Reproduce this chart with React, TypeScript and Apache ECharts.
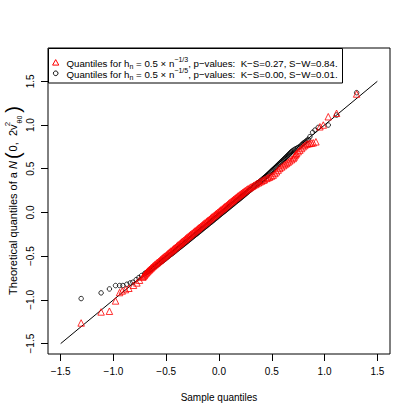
import React, { useEffect, useRef } from "react";
import * as echarts from "echarts";

const FONT = "'Liberation Sans', Arial, Helvetica, sans-serif";

const xTicks = [-1.5, -1.0, -0.5, 0.0, 0.5, 1.0, 1.5];
const yTicks = [-1.5, -1.0, -0.5, 0.0, 0.5, 1.0, 1.5];
const refLine = [[-1.5, -1.5], [1.5, 1.5]];

// [sample quantile, theoretical quantile]
const redTail = [
  [-1.306, -1.264], [-1.117, -1.138], [-1.038, -1.13], [-0.98, -1.012], [-0.942, -0.916],
  [-0.917, -0.898], [-0.886, -0.882], [-0.854, -0.867], [-0.81, -0.833], [-0.778, -0.806],
  [-0.753, -0.775],
];
const redBand = [
  [-0.722, -0.74], [-0.716, -0.73], [-0.708, -0.72], [-0.703, -0.71], [-0.694, -0.7],
  [-0.688, -0.69], [-0.68, -0.68], [-0.673, -0.67], [-0.664, -0.66], [-0.656, -0.65],
  [-0.646, -0.64], [-0.64, -0.63], [-0.628, -0.62], [-0.621, -0.61], [-0.61, -0.6],
  [-0.602, -0.59], [-0.59, -0.58], [-0.583, -0.57], [-0.571, -0.56], [-0.56, -0.55],
  [-0.552, -0.54], [-0.543, -0.53], [-0.532, -0.52], [-0.524, -0.51], [-0.513, -0.5],
  [-0.501, -0.49], [-0.492, -0.48], [-0.484, -0.47], [-0.473, -0.46], [-0.463, -0.45],
  [-0.454, -0.44], [-0.441, -0.43], [-0.433, -0.42], [-0.425, -0.41], [-0.414, -0.4],
  [-0.402, -0.39], [-0.395, -0.38], [-0.386, -0.37], [-0.374, -0.36], [-0.363, -0.35],
  [-0.355, -0.34], [-0.347, -0.33], [-0.336, -0.32], [-0.323, -0.31], [-0.315, -0.3],
  [-0.307, -0.29], [-0.296, -0.28], [-0.284, -0.27], [-0.275, -0.26], [-0.267, -0.25],
  [-0.256, -0.24], [-0.244, -0.23], [-0.235, -0.22], [-0.226, -0.21], [-0.214, -0.2],
  [-0.203, -0.19], [-0.195, -0.18], [-0.186, -0.17], [-0.174, -0.16], [-0.163, -0.15],
  [-0.153, -0.14], [-0.145, -0.13], [-0.134, -0.12], [-0.121, -0.11], [-0.113, -0.1],
  [-0.104, -0.09], [-0.092, -0.08], [-0.081, -0.07], [-0.073, -0.06], [-0.064, -0.05],
  [-0.052, -0.04], [-0.04, -0.03], [-0.031, -0.02], [-0.023, -0.01], [-0.012, 0.0],
  [0.0, 0.01], [0.009, 0.02], [0.018, 0.03], [0.03, 0.04], [0.041, 0.05],
  [0.049, 0.06], [0.058, 0.07], [0.07, 0.08], [0.081, 0.09], [0.091, 0.1],
  [0.099, 0.11], [0.11, 0.12], [0.122, 0.13], [0.132, 0.14], [0.14, 0.15],
  [0.151, 0.16], [0.162, 0.17], [0.173, 0.18], [0.182, 0.19], [0.194, 0.2],
  [0.205, 0.21], [0.216, 0.22], [0.226, 0.23], [0.238, 0.24], [0.249, 0.25],
  [0.262, 0.26], [0.274, 0.27], [0.288, 0.28], [0.301, 0.29], [0.315, 0.3],
  [0.329, 0.31], [0.344, 0.32], [0.358, 0.33], [0.374, 0.34], [0.389, 0.35],
  [0.405, 0.36], [0.42, 0.37],
];
const redUpper = [
  [0.43, 0.375], [0.45, 0.389], [0.465, 0.397], [0.48, 0.405], [0.497, 0.416],
  [0.513, 0.427], [0.53, 0.446], [0.545, 0.465], [0.56, 0.485], [0.576, 0.504],
  [0.593, 0.52], [0.61, 0.535], [0.625, 0.548], [0.64, 0.561], [0.655, 0.576],
  [0.67, 0.59], [0.687, 0.604], [0.703, 0.618], [0.712, 0.634], [0.72, 0.65],
  [0.728, 0.663], [0.735, 0.676], [0.75, 0.695], [0.766, 0.713], [0.782, 0.732],
  [0.797, 0.751], [0.813, 0.766], [0.83, 0.782], [0.845, 0.786], [0.861, 0.79],
  [0.877, 0.794], [0.893, 0.797], [0.918, 0.808], [0.956, 0.98], [0.988, 1.0],
  [1.035, 1.095], [1.114, 1.134], [1.304, 1.355],
];

const blackTail = [
  [-1.306, -0.985], [-1.117, -0.92], [-1.038, -0.875], [-0.98, -0.836], [-0.942, -0.836],
  [-0.911, -0.836], [-0.873, -0.821], [-0.841, -0.806], [-0.816, -0.798], [-0.784, -0.768],
  [-0.759, -0.745], [-0.734, -0.722],
];
const blackBand = [
  [-0.705, -0.7], [-0.692, -0.69], [-0.679, -0.68], [-0.667, -0.67], [-0.655, -0.66],
  [-0.643, -0.65], [-0.631, -0.64], [-0.62, -0.63], [-0.607, -0.62], [-0.596, -0.61],
  [-0.584, -0.6], [-0.575, -0.59], [-0.563, -0.58], [-0.552, -0.57], [-0.541, -0.56],
  [-0.53, -0.55], [-0.52, -0.54], [-0.509, -0.53], [-0.498, -0.52], [-0.487, -0.51],
  [-0.477, -0.5], [-0.467, -0.49], [-0.456, -0.48], [-0.445, -0.47], [-0.435, -0.46],
  [-0.424, -0.45], [-0.414, -0.44], [-0.404, -0.43], [-0.393, -0.42], [-0.383, -0.41],
  [-0.372, -0.4], [-0.362, -0.39], [-0.352, -0.38], [-0.341, -0.37], [-0.331, -0.36],
  [-0.321, -0.35], [-0.311, -0.34], [-0.3, -0.33], [-0.29, -0.32], [-0.28, -0.31],
  [-0.27, -0.3], [-0.259, -0.29], [-0.249, -0.28], [-0.239, -0.27], [-0.229, -0.26],
  [-0.218, -0.25], [-0.208, -0.24], [-0.198, -0.23], [-0.188, -0.22], [-0.177, -0.21],
  [-0.167, -0.2], [-0.157, -0.19], [-0.147, -0.18], [-0.136, -0.17], [-0.126, -0.16],
  [-0.116, -0.15], [-0.106, -0.14], [-0.096, -0.13], [-0.086, -0.12], [-0.075, -0.11],
  [-0.065, -0.1], [-0.055, -0.09], [-0.045, -0.08], [-0.035, -0.07], [-0.024, -0.06],
  [-0.014, -0.05], [-0.004, -0.04], [0.006, -0.03], [0.016, -0.02], [0.026, -0.01],
  [0.036, 0.0], [0.047, 0.01], [0.057, 0.02], [0.067, 0.03], [0.077, 0.04],
  [0.087, 0.05], [0.097, 0.06], [0.108, 0.07], [0.118, 0.08], [0.128, 0.09],
  [0.138, 0.1], [0.148, 0.11], [0.158, 0.12], [0.169, 0.13], [0.179, 0.14],
  [0.189, 0.15], [0.199, 0.16], [0.209, 0.17], [0.219, 0.18], [0.229, 0.19],
  [0.239, 0.2], [0.249, 0.21], [0.259, 0.22], [0.268, 0.23], [0.278, 0.24],
  [0.288, 0.25], [0.298, 0.26], [0.308, 0.27], [0.318, 0.28], [0.328, 0.29],
  [0.338, 0.3], [0.349, 0.31], [0.359, 0.32], [0.37, 0.33], [0.38, 0.34],
  [0.39, 0.35], [0.401, 0.36], [0.411, 0.37], [0.42, 0.38], [0.428, 0.39],
  [0.437, 0.4], [0.446, 0.41], [0.454, 0.42], [0.462, 0.43], [0.471, 0.44],
  [0.479, 0.45], [0.487, 0.46], [0.496, 0.47], [0.504, 0.48], [0.513, 0.49],
  [0.522, 0.5], [0.531, 0.51], [0.54, 0.52], [0.548, 0.53], [0.557, 0.54],
  [0.565, 0.55], [0.574, 0.56], [0.582, 0.57], [0.591, 0.58], [0.599, 0.59],
  [0.608, 0.6], [0.616, 0.61], [0.625, 0.62], [0.633, 0.63], [0.642, 0.64],
  [0.65, 0.65], [0.659, 0.66], [0.667, 0.67], [0.675, 0.68], [0.683, 0.69],
  [0.692, 0.7], [0.703, 0.71], [0.715, 0.72], [0.73, 0.73], [0.745, 0.74],
  [0.759, 0.75], [0.772, 0.76], [0.785, 0.775], [0.797, 0.79], [0.808, 0.8],
  [0.82, 0.81], [0.833, 0.823], [0.845, 0.836],
];
const blackUpper = [
  [0.861, 0.866], [0.887, 0.916], [0.909, 0.942], [0.94, 0.973], [1.035, 1.0],
  [1.114, 1.114], [1.304, 1.37],
];

const redData = [...redTail, ...redBand, ...redUpper];
const blackData = [...blackTail, ...blackBand, ...blackUpper];

const fmt = (v: number) => (v < 0 ? "\u2212" + Math.abs(v).toFixed(1) : v.toFixed(1));

export default function App() {
  const ref = useRef<HTMLDivElement>(null);
  useEffect(() => {
    document.body.style.margin = "0";
    const chart = echarts.init(ref.current!, undefined, { renderer: "svg" });
    const legendRich = {
      a: { fontSize: 9.7, fontFamily: FONT, color: "#000", lineHeight: 14 },
      sub: { fontSize: 7, fontFamily: FONT, color: "#000", verticalAlign: "bottom", lineHeight: 14 },
      sup: { fontSize: 7, fontFamily: FONT, color: "#000", verticalAlign: "top", lineHeight: 7 },
    };
    chart.setOption({
      animation: false,
      backgroundColor: "#fff",
      grid: {
        left: 48, right: 25, top: 48, bottom: 61,
        show: true, borderColor: "#000", borderWidth: 1, backgroundColor: "transparent",
      },
      xAxis: {
        type: "value", min: -1.62, max: 1.62,
        splitLine: { show: false },
        axisLine: { show: false, onZero: false },
        axisTick: { show: true, length: 7, lineStyle: { color: "#000" }, customValues: xTicks },
        axisLabel: { customValues: xTicks, formatter: fmt, margin: 12, color: "#000", fontSize: 10, fontFamily: FONT },
      },
      yAxis: {
        type: "value", min: -1.619, max: 1.881,
        splitLine: { show: false },
        axisLine: { show: false, onZero: false },
        axisTick: { show: true, length: 7, lineStyle: { color: "#000" }, customValues: yTicks },
        axisLabel: { customValues: yTicks, formatter: fmt, rotate: 90, margin: 13, color: "#000", fontSize: 10, fontFamily: FONT },
      },
      series: [
        {
          type: "line", data: refLine, symbol: "none", silent: true, z: 1,
          lineStyle: { color: "#000", width: 1 },
        },
        {
          type: "scatter", data: blackData, symbol: "circle", symbolSize: 4.5, z: 2,
          itemStyle: { color: "rgba(0,0,0,0)", borderColor: "#000", borderWidth: 1 },
        },
        {
          type: "scatter", data: redData, symbol: "triangle", symbolSize: 6.5, z: 3,
          itemStyle: { color: "rgba(0,0,0,0)", borderColor: "#ff0000", borderWidth: 1 },
        },
      ],
      graphic: [
        {
          type: "rect", z: 10, shape: { x: 48.5, y: 48.5, width: 294, height: 34.5 },
          style: { fill: "#fff", stroke: "#000", lineWidth: 1 },
        },
        {
          type: "polygon", z: 11, shape: { points: [[55.7, 59.6], [52.6, 65.1], [58.8, 65.1]] },
          style: { fill: "none", stroke: "#ff0000", lineWidth: 1 },
        },
        {
          type: "circle", z: 11, shape: { cx: 55.7, cy: 73.3, r: 2.3 },
          style: { fill: "none", stroke: "#000", lineWidth: 1 },
        },
        {
          type: "text", z: 11, x: 66.5, y: 63,
          style: {
            text: "{a|Quantiles for h}{sub|n}{a| = 0.5 \u00d7 n}{sup|\u22121/3}{a|, p\u2212values:  K\u2212S=0.27, S\u2212W=0.84.}",
            rich: legendRich, verticalAlign: "middle", align: "left",
          },
        },
        {
          type: "text", z: 11, x: 66.5, y: 74,
          style: {
            text: "{a|Quantiles for h}{sub|n}{a| = 0.5 \u00d7 n}{sup|\u22121/5}{a|, p\u2212values:  K\u2212S=0.00, S\u2212W=0.01.}",
            rich: legendRich, verticalAlign: "middle", align: "left",
          },
        },
        {
          type: "text", x: 219, y: 397,
          style: { text: "Sample quantiles", fontSize: 10, fontFamily: FONT, fill: "#000", align: "center", verticalAlign: "middle" },
        },
        {
          type: "text", x: 13, y: 200, rotation: Math.PI / 2,
          style: {
            text: "{a|Theoretical quantiles of a }{i|N}{p|(}{a|0,  2v}{sup|2}{sub|\u03b80}{p|)}",
            align: "center", verticalAlign: "middle",
            rich: {
              a: { fontSize: 11, fontFamily: FONT, color: "#000", lineHeight: 20 },
              i: { fontSize: 11, fontFamily: FONT, fontStyle: "italic", color: "#000", lineHeight: 20, padding: [0, 1, 0, 0] },
              p: { fontSize: 20, fontFamily: FONT, color: "#000", lineHeight: 20, padding: [0, 1, 0, 1] },
              sup: { fontSize: 8, fontFamily: FONT, color: "#000", verticalAlign: "top", lineHeight: 14, width: 1 },
              sub: { fontSize: 7, fontFamily: FONT, color: "#000", verticalAlign: "bottom", lineHeight: 14, padding: [0, 2, 0, 0] },
            },
          },
        },
      ],
    });
    return () => chart.dispose();
  }, []);
  return <div ref={ref} style={{ width: 415, height: 415 }} />;
}
